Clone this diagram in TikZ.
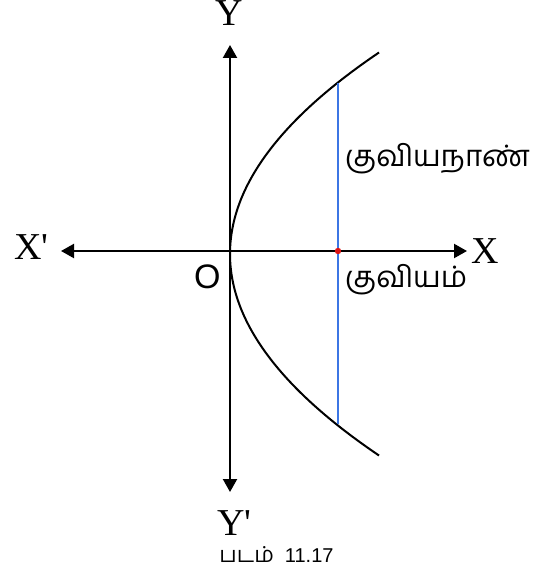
\documentclass[tikz,border=0pt]{standalone}
\usepackage{fontspec}
\setmainfont{Liberation Serif}
\newfontfamily\tamilfont[Script=Tamil]{Hind Madurai}
\newfontfamily\sansfont{Liberation Sans}
\usetikzlibrary{arrows.meta}
\definecolor{chordblue}{RGB}{60,118,228}
\definecolor{dotred}{RGB}{220,20,20}
\begin{document}
\begin{tikzpicture}[x=1pt,y=-1pt,
  axis/.style={line width=2.2pt,-{Triangle[length=13pt,width=14pt]}},
  curve/.style={line width=2pt},
  chord/.style={line width=2.6pt,draw=chordblue},
  lbl/.style={inner sep=0pt,font=\fontsize{38}{40}\selectfont},
  tlbl/.style={inner sep=0pt,font=\tamilfont\fontsize{29.5}{32}\selectfont},
]
\useasboundingbox (0,0) rectangle (545,575);
\coordinate (O) at (230,251);
\coordinate (ytop) at (230,45);
\coordinate (ybot) at (230,492);
\coordinate (xleft) at (61,251);
\coordinate (xright) at (467,251);
\coordinate (ctop) at (338,83);
\coordinate (cbot) at (338,424);
\coordinate (F) at (338,251);
\draw[axis] (O) -- (ytop);
\draw[axis] (O) -- (ybot);
\draw[axis] (O) -- (xleft);
\draw[axis] (O) -- (xright);
\draw[curve] plot[domain=-20.15:20.15,samples=120,smooth,variable=\t] ({230+0.367*\t*\t},{254+10*\t});
\draw[chord] (ctop) -- (cbot);
\fill[dotred] (F) circle (3.2pt);
\node[lbl,anchor=base] (Y) at (229,26) {Y};
\node[lbl,anchor=base west] (Yp) at (217,535) {Y\textquotesingle};
\node[lbl,anchor=base west] (Xp) at (14,259) {X\textquotesingle};
\node[lbl,anchor=base west] (X) at (471,263) {X};
\node[inner sep=0pt,anchor=base west,font=\sansfont\fontsize{34}{36}\selectfont] (Olbl) at (194,288) {O};
\node[tlbl,anchor=base west] (chordlbl) at (345,166) {குவியநாண்};
\node[tlbl,anchor=base west] (focuslbl) at (345,287) {குவியம்};
\node[inner sep=0pt,anchor=base] (cap) at (276.5,562) {{\tamilfont\fontsize{22}{24}\selectfont படம்}\hspace{11pt}{\sansfont\fontsize{20}{22}\selectfont 11.17}};
\end{tikzpicture}
\end{document}
